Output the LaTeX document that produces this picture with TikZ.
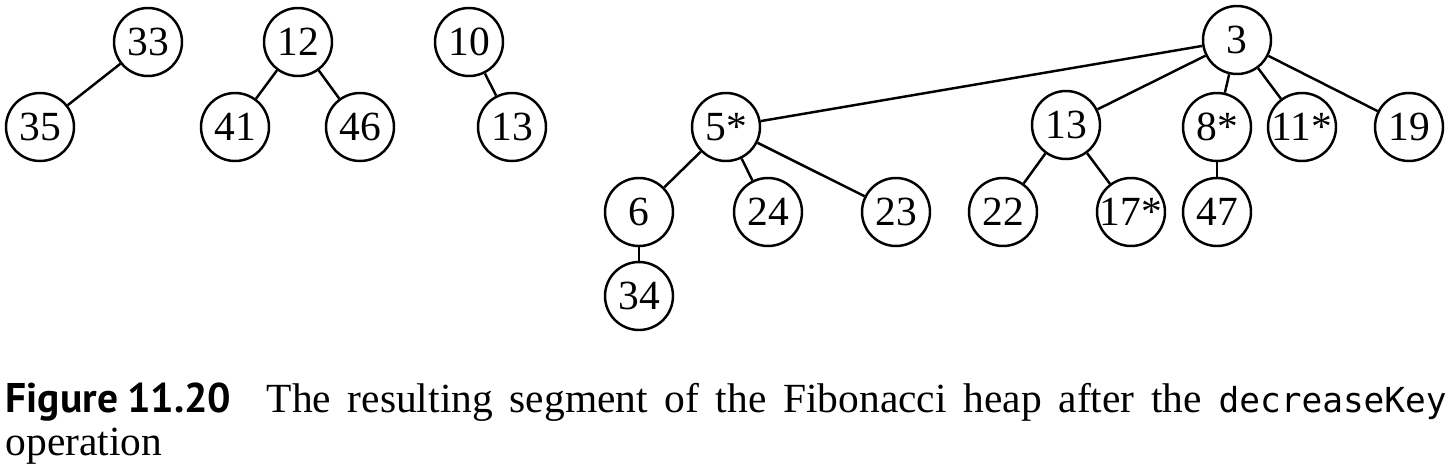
\documentclass[tikz,border=0pt]{standalone}
\usepackage{fontspec}
\setmainfont{Liberation Serif}
\setmonofont{DejaVu Sans Mono}
\newfontfamily\labelfont{PT Sans}

\begin{document}
\begin{tikzpicture}[
    key/.style={circle, draw, line width=0.7pt, minimum size=0.68cm, inner sep=0pt, font=\fontsize{11.8}{13}\selectfont},
    caption/.style={inner sep=0pt, anchor=base west, font=\fontsize{11.8}{13}\selectfont},
    every edge/.style={draw, line width=0.7pt}
]
\useasboundingbox (0,0) rectangle (14.52,4.64);

% Tree rooted at 33
\node[key] (A-0) at (1.48, 4.22) {33};
\node[key] (A-1) at (0.40, 3.37) {35};

% Tree rooted at 12
\node[key] (B-0) at (2.98, 4.22) {12};
\node[key] (B-1) at (2.35, 3.37) {41};
\node[key] (B-2) at (3.60, 3.37) {46};

% Tree rooted at 10
\node[key] (C-0) at (4.69, 4.22) {10};
\node[key] (C-1) at (5.12, 3.37) {13};

% Tree rooted at 3
\node[key] (D-0) at (12.37, 4.24) {3};

\node[key] (D-1) at (7.26, 3.37) {5*};
\node[key] (D-2) at (10.66, 3.39) {13};
\node[key] (D-3) at (12.17, 3.37) {8*};
\node[key] (D-4) at (13.02, 3.37) {11*};
\node[key] (D-5) at (14.09, 3.37) {19};

\node[key] (D1-1) at (6.39, 2.52) {6};
\node[key] (D1-2) at (7.68, 2.52) {24};
\node[key] (D1-3) at (8.96, 2.52) {23};
\node[key] (D2-1) at (10.03, 2.52) {22};
\node[key] (D2-2) at (11.31, 2.52) {17*};
\node[key] (D3-1) at (12.17, 2.52) {47};

\node[key] (D11-1) at (6.39, 1.68) {34};

% Connections

\path (A-0) edge (A-1);

\foreach \j in {1,2}
    \path (B-0) edge (B-\j);

\path (C-0) edge (C-1);

\foreach \j in {1,...,5}
    \path (D-0) edge (D-\j);

\foreach \j in {1,2,3}
    \path (D-1) edge (D1-\j);

\foreach \j in {1,2}
    \path (D-2) edge (D2-\j);

\path (D-3) edge (D3-1);
\path (D1-1) edge (D11-1);

% Caption
\node[caption] (cap-1) at (0.05, 0.52) {\makebox[14.41cm][s]{{\labelfont\bfseries Figure\hspace{0.22em}11.20}\hspace{0.85em}The resulting segment of the Fibonacci heap after the {\ttfamily\fontsize{9.8}{12}\selectfont decreaseKey}}};
\node[caption] (cap-2) at (0.05, 0.09) {operation};

\end{tikzpicture}
\end{document}
